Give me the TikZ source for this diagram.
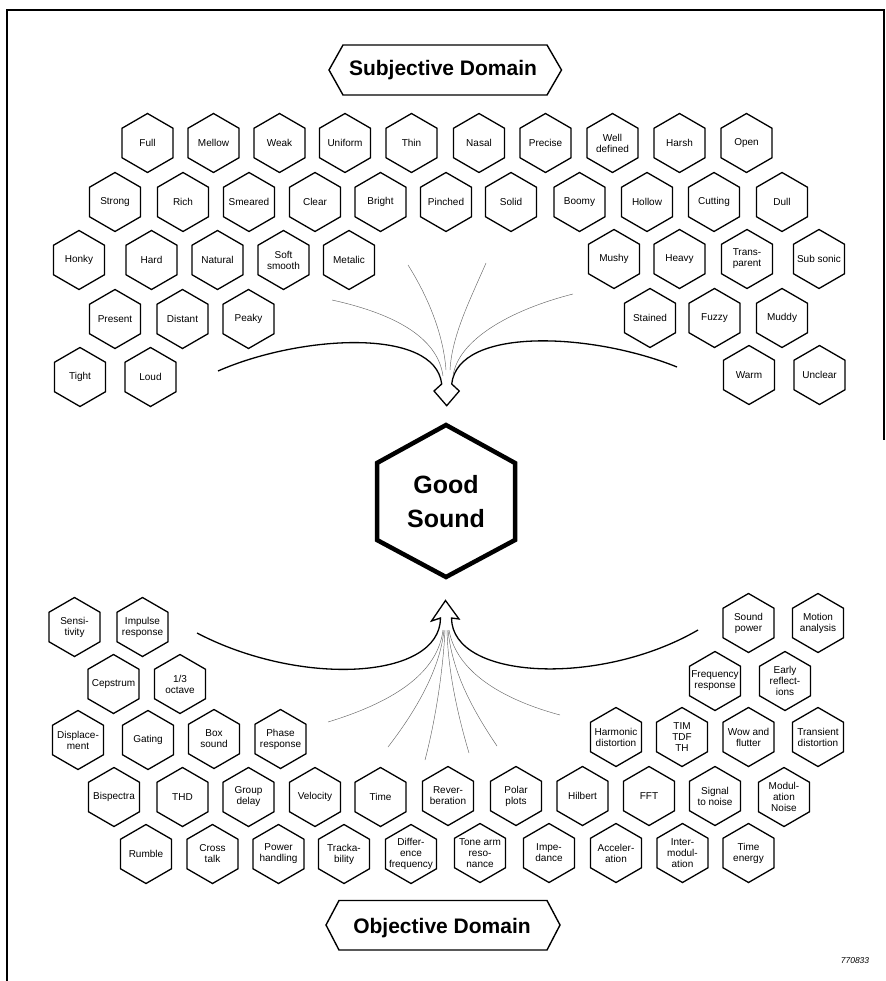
\documentclass[tikz,border=0pt]{standalone}
\usepackage{fontspec}
\setmainfont{Liberation Sans}
\newcommand\hexcell[4]{%
  \node[cell] (#1) at (#2,#3) {#4};
  \draw[hexline] (#1.center) +(0,-29.5) -- +(25.5,-14.75) -- +(25.5,14.75) -- +(0,29.5) -- +(-25.5,14.75) -- +(-25.5,-14.75) -- cycle;}
\begin{document}
\begin{tikzpicture}[x=1pt,y=-1pt,
  cell/.style={font=\fontsize{10}{11}\selectfont, align=center, inner sep=0pt},
  hexline/.style={line width=1.3pt, line join=miter},
  boxline/.style={line width=1.4pt, line join=miter},
  flow/.style={line width=1.3pt, line join=miter},
  fan/.style={line width=0.45pt, black!60},
  frameline/.style={line width=1.2pt}]
\useasboundingbox (0,0) rectangle (885,981);
% frame
\draw[frameline] (7,981) -- (7,10) -- (884,10) -- (884,440);

% headers
\node[font=\fontsize{21}{24}\selectfont\bfseries, anchor=base, inner sep=0pt] (subj) at (443,76) {Subjective Domain};
\draw[boxline] (329,70) -- (343,45) -- (547,45) -- (561.5,70) -- (547,95) -- (343,95) -- cycle;
\node[font=\fontsize{21}{24}\selectfont\bfseries, anchor=base, inner sep=0pt] (obj) at (442,933) {Objective Domain};
\draw[boxline] (326,925) -- (339,900.5) -- (547,900.5) -- (560,925) -- (547,950) -- (339,950) -- cycle;

% Good sound
\node[font=\fontsize{25}{34}\selectfont\bfseries, align=center, inner sep=0pt] (good) at (446,502) {Good\\Sound};
\draw[line width=4.5pt, line join=miter] (good.center) +(0,-77) -- +(69,-39) -- +(69,38) -- +(0,75) -- +(-69,38) -- +(-69,-39) -- cycle;

% subjective row 1
\hexcell{full}{147.5}{143}{Full}
\hexcell{mellow}{213.5}{143}{Mellow}
\hexcell{weak}{279.5}{143}{Weak}
\hexcell{uniform}{345}{143}{Uniform}
\hexcell{thin}{411.5}{143}{Thin}
\hexcell{nasal}{479}{143}{Nasal}
\hexcell{precise}{545.5}{143}{Precise}
\hexcell{well}{612.5}{143}{Well\\defined}
\hexcell{harsh}{679.5}{143}{Harsh}
\hexcell{open}{746.5}{143}{Open}
% row 2
\hexcell{strong}{115}{202}{Strong}
\hexcell{rich}{183}{202}{Rich}
\hexcell{smeared}{249}{202}{Smeared}
\hexcell{clear}{315}{202}{Clear}
\hexcell{bright}{380.5}{202}{Bright}
\hexcell{pinched}{446}{202}{Pinched}
\hexcell{solid}{511}{202}{Solid}
\hexcell{boomy}{579.5}{202}{Boomy}
\hexcell{hollow}{647}{202}{Hollow}
\hexcell{cutting}{714}{202}{Cutting}
\hexcell{dull}{782}{202}{Dull}
% row 3
\hexcell{honky}{79}{260}{Honky}
\hexcell{hard}{151.5}{260}{Hard}
\hexcell{natural}{217.5}{260}{Natural}
\hexcell{soft}{283.5}{260}{Soft\\smooth}
\hexcell{metalic}{349}{260}{Metalic}
\hexcell{mushy}{614}{259}{Mushy}
\hexcell{heavy}{679.5}{259}{Heavy}
\hexcell{transp}{747}{259}{Trans-\\parent}
\hexcell{subsonic}{819}{259}{Sub sonic}
% row 4
\hexcell{present}{115}{319}{Present}
\hexcell{distant}{182.5}{319}{Distant}
\hexcell{peaky}{248.5}{319}{Peaky}
\hexcell{stained}{650}{318}{Stained}
\hexcell{fuzzy}{714.5}{318}{Fuzzy}
\hexcell{muddy}{782}{318}{Muddy}
% row 5
\hexcell{tight}{80}{377}{Tight}
\hexcell{loud}{150.5}{377}{Loud}
\hexcell{warm}{749}{375}{Warm}
\hexcell{unclear}{819.5}{375}{Unclear}

% objective row A
\hexcell{sens}{74.5}{627}{Sensi-\\tivity}
\hexcell{impulse}{142.5}{627}{Impulse\\response}
\hexcell{soundpow}{748.5}{623}{Sound\\power}
\hexcell{motion}{818}{623}{Motion\\analysis}
% row B
\hexcell{cepstrum}{113.5}{684}{Cepstrum}
\hexcell{third}{180}{684}{1/3\\octave}
\hexcell{freqresp}{715}{681}{Frequency\\response}
\hexcell{early}{785}{681}{Early\\reflect-\\ions}
% row C
\hexcell{displ}{78}{740}{Displace-\\ment}
\hexcell{gating}{148}{740}{Gating}
\hexcell{box}{214}{739}{Box\\sound}
\hexcell{phase}{280.5}{739}{Phase\\response}
\hexcell{harmonic}{616}{737}{Harmonic\\distortion}
\hexcell{tim}{682}{737}{TIM\\TDF\\TH}
\hexcell{wow}{748.5}{737}{Wow and\\flutter}
\hexcell{transient}{818}{737}{Transient\\distortion}
% row D
\hexcell{bispectra}{114}{797}{Bispectra}
\hexcell{thd}{182.5}{797}{THD}
\hexcell{group}{248.5}{797}{Group\\delay}
\hexcell{velocity}{315}{797}{Velocity}
\hexcell{time}{380.5}{797}{Time}
\hexcell{reverb}{448}{796}{Rever-\\beration}
\hexcell{polar}{516}{796}{Polar\\plots}
\hexcell{hilbert}{582.5}{796}{Hilbert}
\hexcell{fft}{649}{796}{FFT}
\hexcell{signal}{715}{796}{Signal\\to noise}
\hexcell{modul}{784}{797}{Modul-\\ation\\Noise}
% row E
\hexcell{rumble}{146}{854}{Rumble}
\hexcell{cross}{212.5}{854}{Cross\\talk}
\hexcell{power}{278.5}{854}{Power\\handling}
\hexcell{track}{344}{854}{Tracka-\\bility}
\hexcell{diff}{411}{854}{Differ-\\ence\\frequency}
\hexcell{tone}{480}{853}{Tone arm\\reso-\\nance}
\hexcell{imped}{549}{853}{Impe-\\dance}
\hexcell{accel}{616}{853}{Acceler-\\ation}
\hexcell{inter}{682.5}{853}{Inter-\\modul-\\ation}
\hexcell{timeen}{748.5}{853}{Time\\energy}

% top arrow into Good Sound
\coordinate (tl) at (218,371);
\coordinate (tr) at (677,367);
\coordinate (ttip) at (446.7,405.7);
\draw[flow] (tl) .. controls (300,335) and (435,327) .. (441.7,384) -- (434,391) -- (ttip) -- (459.3,391) -- (451.7,384) .. controls (458,327) and (590,332) .. (tr);
\coordinate (tf1) at (332,300);
\coordinate (tf2) at (408,265);
\coordinate (tf3) at (486,263);
\coordinate (tf4) at (573,294);
\draw[fan] (tf1) .. controls (400,315) and (438,340) .. (443,376);
\draw[fan] (tf2) .. controls (425,292) and (443,330) .. (446,370);
\draw[fan] (tf3) .. controls (470,300) and (452,335) .. (450,370);
\draw[fan] (tf4) .. controls (510,310) and (458,340) .. (453,376);

% bottom arrow out of objective domain
\coordinate (bl) at (197,633);
\coordinate (br) at (698,630);
\coordinate (btip) at (445.5,600.5);
\draw[flow] (bl) .. controls (300,687) and (440,680) .. (440.5,618) -- (431.5,621) -- (btip) -- (459,619) -- (451.5,618) .. controls (452,680) and (600,687) .. (br);
\coordinate (bf1) at (328,722);
\coordinate (bf2) at (388,747);
\coordinate (bf3) at (425,760);
\coordinate (bf4) at (469,753);
\coordinate (bf5) at (497,746);
\coordinate (bf6) at (560,715);
\draw[fan] (bf1) .. controls (400,700) and (438,670) .. (443,630);
\draw[fan] (bf2) .. controls (415,712) and (440,670) .. (444,630);
\draw[fan] (bf3) .. controls (435,722) and (443,672) .. (445,630);
\draw[fan] (bf4) .. controls (458,716) and (448,672) .. (447,630);
\draw[fan] (bf5) .. controls (470,706) and (452,670) .. (448,630);
\draw[fan] (bf6) .. controls (490,696) and (455,665) .. (449,630);

\node[font=\fontsize{8.5}{10}\selectfont\itshape, anchor=base, inner sep=0pt] (code) at (855,963.5) {770833};
\end{tikzpicture}
\end{document}
